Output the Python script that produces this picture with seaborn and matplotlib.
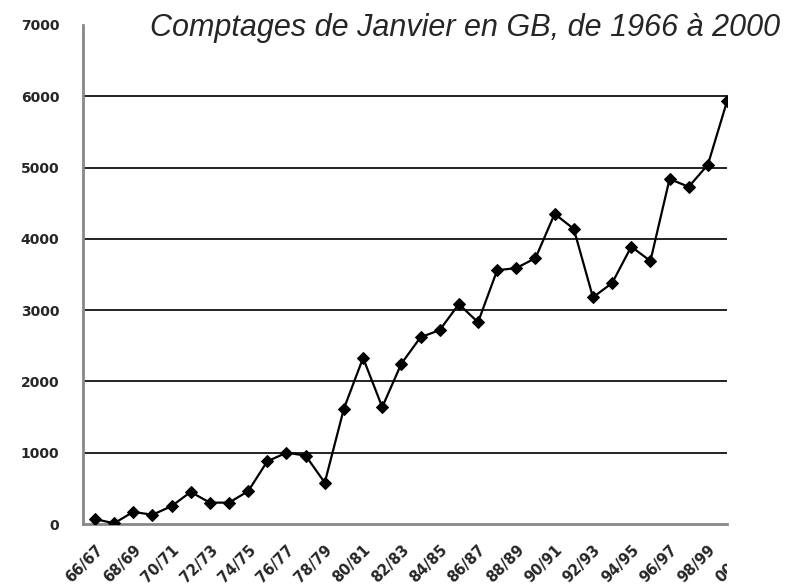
import matplotlib
matplotlib.use("Agg")
import matplotlib.pyplot as plt
from matplotlib.transforms import Bbox, TransformedBbox, ScaledTranslation
import pandas as pd
import seaborn as sb

# saisons 66/67 .. 00/01 (comptages de janvier)
seasons = ["66/67", "67/68", "68/69", "69/70", "70/71", "71/72", "72/73", "73/74",
           "74/75", "75/76", "76/77", "77/78", "78/79", "79/80", "80/81", "81/82",
           "82/83", "83/84", "84/85", "85/86", "86/87", "87/88", "88/89", "89/90",
           "90/91", "91/92", "92/93", "93/94", "94/95", "95/96", "96/97", "97/98",
           "98/99", "99/00", "00/01"]
counts = [70, 10, 170, 130, 250, 450, 300, 300, 460, 880, 1000, 960, 580, 1620,
          2330, 1640, 2250, 2620, 2720, 3085, 2830, 3560, 3590, 3730, 4350, 4140,
          3180, 3380, 3890, 3690, 4840, 4730, 5040, 5930]
y_ticks = [0, 1000, 2000, 3000, 4000, 5000, 6000, 7000]

sb.set_style("white")
plt.rcParams["font.family"] = ["Liberation Sans", "DejaVu Sans"]

df = pd.DataFrame({"idx": range(len(counts)), "count": counts})

fig = plt.figure(figsize=(7.87, 5.84), dpi=100)
ax = fig.add_axes([0.1055, 0.1027, 0.8183, 0.8545])

# grid lines (no line at 7000)
for v in y_ticks[1:-1]:
    ax.axhline(v, color="#222222", lw=1.4, zorder=1)

sb.lineplot(data=df, x="idx", y="count", ax=ax, color="black", lw=1.6,
            marker="D", markersize=6.5, markeredgecolor="black", zorder=3)

ax.set_xlabel("")
ax.set_ylabel("")

ax.set_yticks(y_ticks)
ax.set_yticklabels([str(v) for v in y_ticks], fontsize=10, fontweight="bold",
                   family="DejaVu Sans")
ax.tick_params(axis="y", direction="out", length=5, width=1.2, color="#888888", pad=12)

# labels every other season, small ticks at category boundaries
ax.set_xticks(range(0, len(counts), 2))
ax.set_xticklabels(seasons[:len(counts):2], rotation=45, ha="right",
                   rotation_mode="anchor", fontsize=10.5, fontweight="bold",
                   family="DejaVu Sans")
ax.set_xticks([i - 0.5 for i in range(len(counts))], minor=True)
ax.tick_params(axis="x", which="major", length=0, pad=13)
ax.tick_params(axis="x", which="minor", direction="out", length=5, width=1.2,
               color="#888888")

ax.set_xlim(-0.62, 33.0)
ax.set_ylim(0, 7000)

# last label, cut at the right edge of the plot like the source
last = ax.text(len(seasons) - 1, 0, seasons[-1], rotation=45, ha="right", va="top",
               rotation_mode="anchor", fontsize=10.5, fontweight="bold",
               family="DejaVu Sans",
               transform=ax.get_xaxis_transform() + ScaledTranslation(
                   0, -13 / 72, fig.dpi_scale_trans))
last.set_clip_on(True)
last.set_clip_box(TransformedBbox(Bbox([[0, 0], [0.9238, 1]]), fig.transFigure))

for side in ["top", "right"]:
    ax.spines[side].set_visible(False)
for side in ["left", "bottom"]:
    ax.spines[side].set_color("#888888")
    ax.spines[side].set_linewidth(2)

fig.text(0.991, 0.952, "Comptages de Janvier en GB, de 1966 à 2000", ha="right",
         va="center", fontsize=22, style="italic")

fig.savefig("out.png", dpi=100)
